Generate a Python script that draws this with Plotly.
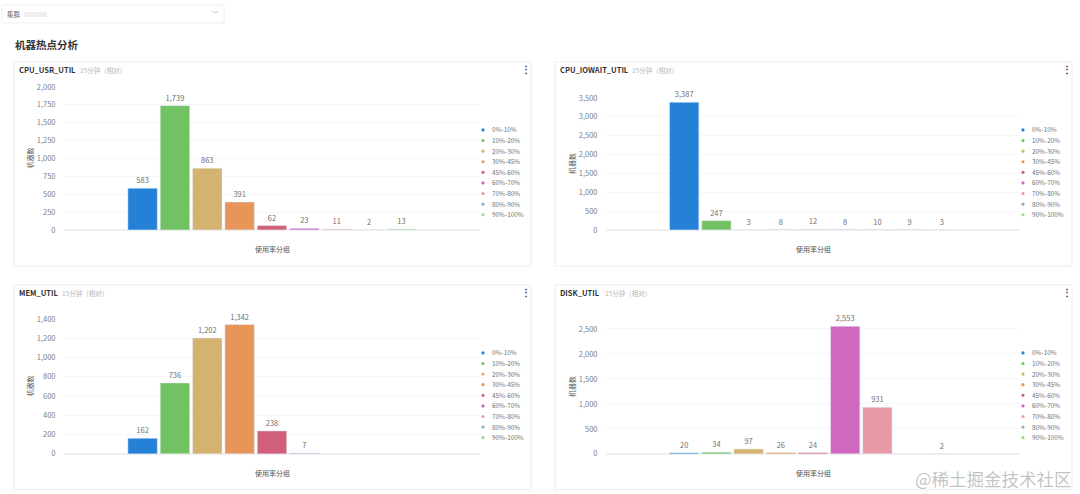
import plotly.graph_objects as go

W = 1080
H = 494
FONT = "Noto Sans CJK SC"

groups = ["0%-10%", "10%-20%", "20%-30%", "30%-45%", "45%-60%", "60%-70%", "70%-80%", "80%-90%", "90%-100%"]
colors = ["#2481d7", "#72c264", "#d4b26f", "#e8955a", "#d1607a", "#cf69bf", "#e998a5", "#93aec4", "#9bdc8c"]

cpu_usr = [583, 1739, 863, 391, 62, 23, 11, 2, 13]
cpu_iowait = [3387, 247, 3, 8, 12, 8, 10, 9, 3]
mem_util = [162, 736, 1202, 1342, 238, 7, None, None, None]
disk_util = [20, 34, 97, 26, 24, 2553, 931, None, 2]

panels = [
    # name, values, card box, plot box, y max, y dtick, legend top
    ("CPU_USR_UTIL", cpu_usr, (14, 62, 531, 266), (64, 87, 480, 230), 2000, 250, 130),
    ("CPU_IOWAIT_UTIL", cpu_iowait, (555, 62, 1072, 266), (606, 98, 1020, 230), 3500, 500, 130),
    ("MEM_UTIL", mem_util, (14, 285, 531, 490), (64, 319, 480, 454), 1400, 200, 353),
    ("DISK_UTIL", disk_util, (555, 285, 1072, 490), (606, 320, 1020, 454), 2680, 500, 353),
]


def px(x):
    return x / W


def py(y):
    # first render came out squeezed vertically, measured against the reference
    return 1 - ((y - 6) / 0.978) / H


def label(x, y, text, size=7.5, color="#666666", anchor="left", angle=0, bold=False):
    if bold:
        text = "<b>" + text + "</b>"
    return dict(x=px(x), y=py(y), xref="paper", yref="paper", text=text, showarrow=False,
                xanchor=anchor, yanchor="middle", textangle=angle,
                font=dict(size=size, color=color, family=FONT))


fig = go.Figure()
shapes = []
notes = []

for n, (name, values, card, box, ymax, dtick, legend_top) in enumerate(panels):
    suffix = "" if n == 0 else str(n + 1)
    for group, value, color in zip(groups, values, colors):
        fig.add_trace(go.Bar(x=["all"], y=[value], name=group, marker_color=color, showlegend=False,
                             texttemplate="%{y:,}", textposition="outside", cliponaxis=False,
                             textangle=0, textfont=dict(size=7.5, color="#707070"),
                             xaxis="x" + suffix, yaxis="y" + suffix))

    fig.update_layout({
        "xaxis" + suffix: dict(domain=[px(box[0]), px(box[2])], anchor="y" + suffix, showticklabels=False,
                               showgrid=False, zeroline=False, ticks="", fixedrange=True),
        "yaxis" + suffix: dict(domain=[py(box[3]), py(box[1])], anchor="x" + suffix, range=[0, ymax],
                               dtick=dtick, tickformat=",", gridcolor="#f6f6f6", gridwidth=1, zeroline=True,
                               zerolinecolor="#f0f0f0", ticks="outside", ticklen=6, tickcolor="white",
                               showline=False, tickfont=dict(size=7.5, color="#808080", family=FONT)),
    })

    # card frame
    shapes.append(dict(type="rect", xref="paper", yref="paper", layer="below",
                       x0=px(card[0]), x1=px(card[2]), y0=py(card[3]), y1=py(card[1]),
                       line=dict(color="#ececec", width=1), fillcolor="white"))

    # card header
    notes.append(label(card[0] + 3, card[1] + 8, name, size=7.5, color="#333333", bold=True))
    title_w = {"CPU_USR_UTIL": 60, "CPU_IOWAIT_UTIL": 71, "MEM_UTIL": 42, "DISK_UTIL": 44}[name]
    notes.append(label(card[0] + 4 + title_w, card[1] + 8, "15分钟（相对）", size=6.5, color="#b5b5b5"))
    notes.append(label(card[2] - 5, card[1] + 7, "⋮", size=10, color="#444444", anchor="center", bold=True))

    # axis titles
    notes.append(label(box[0] - 34, (box[1] + box[3]) / 2, "机器数", size=7, color="#555555",
                       anchor="center", angle=-90))
    notes.append(label((box[0] + box[2]) / 2, box[3] + 19, "使用率分组", size=7, color="#555555", anchor="center"))

    # legend, spacing is tighter than plotly's own legend can go
    for i, (group, color) in enumerate(zip(groups, colors)):
        y = legend_top + i * 10.6
        x = box[2] + 3
        shapes.append(dict(type="circle", xref="paper", yref="paper",
                           x0=px(x - 1.6), x1=px(x + 1.6), y0=py(y + 1.6), y1=py(y - 1.6),
                           fillcolor=color, line=dict(width=0)))
        notes.append(label(x + 7, y, group, size=6.4, color="#707070"))

# filter box on top of the page
shapes.append(dict(type="rect", xref="paper", yref="paper", layer="below",
                   x0=px(2), x1=px(224), y0=py(23), y1=py(5), line=dict(color="#eeeeee", width=1)))
shapes.append(dict(type="rect", xref="paper", yref="paper", layer="below",
                   x0=px(24), x1=px(47), y0=py(17), y1=py(12), line=dict(width=0), fillcolor="#efefef"))
notes.append(label(5, 14, "集群", size=6.5, color="#666666"))
notes.append(label(215, 14, "﹀", size=6, color="#999999", anchor="center"))
notes.append(label(13, 45, "机器热点分析", size=10.5, color="#333333", bold=True))
notes.append(label(1074, 479, "@稀土掘金技术社区", size=17.5, color="rgba(120,120,120,0.45)", anchor="right"))

fig.update_layout(
    width=W, height=H, margin=dict(l=0, r=0, t=0, b=0),
    paper_bgcolor="white", plot_bgcolor="rgba(0,0,0,0)",
    font=dict(family=FONT),
    barmode="group", bargap=0.3, bargroupgap=0.09,
    shapes=shapes, annotations=notes,
)

fig.write_html("out.html", config=dict(displayModeBar=False),
               post_script="document.body.style.margin='0';")
